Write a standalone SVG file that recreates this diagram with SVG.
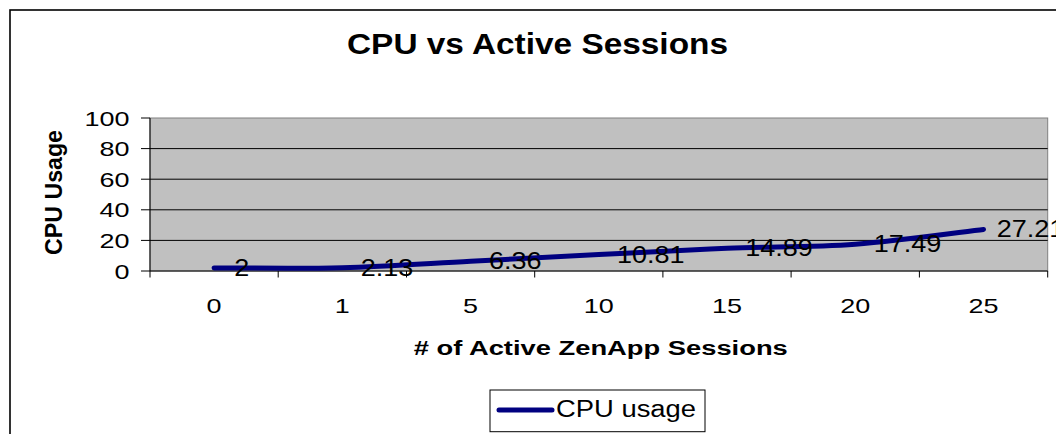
<svg xmlns="http://www.w3.org/2000/svg" width="1056" height="434" viewBox="0 0 1056 434">
<style>
.t{font-family:"Liberation Sans",Arial,sans-serif;fill:#000}
.b{font-weight:bold}
.ax{font-size:21px}
.dl{font-size:24px}
.grid{stroke:#000;stroke-width:1}
.tick{stroke:#000;stroke-width:1}
</style>
<rect x="0" y="0" width="1056" height="434" fill="#fff"/>
<g id="frame">
<rect x="10" y="10" width="1100" height="500" fill="#fff" stroke="#000" stroke-width="1.6"/>
</g>
<g id="title">
<text class="t b" x="537.5" y="54.3" font-size="29" text-anchor="middle" textLength="381" lengthAdjust="spacingAndGlyphs">CPU vs Active Sessions</text>
</g>
<g id="plot">
<rect x="150" y="118" width="897.7" height="153" fill="#C0C0C0" stroke="#808080" stroke-width="1"/>
<line class="grid" x1="150" y1="148.6" x2="1047.7" y2="148.6"/>
<line class="grid" x1="150" y1="179.2" x2="1047.7" y2="179.2"/>
<line class="grid" x1="150" y1="209.8" x2="1047.7" y2="209.8"/>
<line class="grid" x1="150" y1="240.4" x2="1047.7" y2="240.4"/>
</g>
<g id="axes">
<line class="tick" x1="150" y1="118" x2="150" y2="271"/>
<line class="tick" x1="141" y1="271" x2="1047.7" y2="271"/>
<line class="tick" x1="141" y1="118" x2="150" y2="118"/>
<line class="tick" x1="141" y1="148.6" x2="150" y2="148.6"/>
<line class="tick" x1="141" y1="179.2" x2="150" y2="179.2"/>
<line class="tick" x1="141" y1="209.8" x2="150" y2="209.8"/>
<line class="tick" x1="141" y1="240.4" x2="150" y2="240.4"/>
<line class="tick" x1="150" y1="271" x2="150" y2="277.5"/>
<line class="tick" x1="278.2" y1="271" x2="278.2" y2="277.5"/>
<line class="tick" x1="406.5" y1="271" x2="406.5" y2="277.5"/>
<line class="tick" x1="534.7" y1="271" x2="534.7" y2="277.5"/>
<line class="tick" x1="662.9" y1="271" x2="662.9" y2="277.5"/>
<line class="tick" x1="791.1" y1="271" x2="791.1" y2="277.5"/>
<line class="tick" x1="919.4" y1="271" x2="919.4" y2="277.5"/>
<line class="tick" x1="1047.7" y1="271" x2="1047.7" y2="277.5"/>
</g>
<g id="y-labels" text-anchor="end">
<text class="t ax" x="129.5" y="125.5" textLength="45" lengthAdjust="spacingAndGlyphs">100</text>
<text class="t ax" x="129.5" y="156.1" textLength="30" lengthAdjust="spacingAndGlyphs">80</text>
<text class="t ax" x="129.5" y="186.7" textLength="30" lengthAdjust="spacingAndGlyphs">60</text>
<text class="t ax" x="129.5" y="217.3" textLength="30" lengthAdjust="spacingAndGlyphs">40</text>
<text class="t ax" x="129.5" y="247.9" textLength="30" lengthAdjust="spacingAndGlyphs">20</text>
<text class="t ax" x="129.5" y="278.5" textLength="15" lengthAdjust="spacingAndGlyphs">0</text>
</g>
<g id="x-labels" text-anchor="middle">
<text class="t ax" x="214.1" y="313.3" textLength="15" lengthAdjust="spacingAndGlyphs">0</text>
<text class="t ax" x="342.3" y="313.3" textLength="15" lengthAdjust="spacingAndGlyphs">1</text>
<text class="t ax" x="470.6" y="313.3" textLength="15" lengthAdjust="spacingAndGlyphs">5</text>
<text class="t ax" x="598.8" y="313.3" textLength="30" lengthAdjust="spacingAndGlyphs">10</text>
<text class="t ax" x="727" y="313.3" textLength="30" lengthAdjust="spacingAndGlyphs">15</text>
<text class="t ax" x="855.3" y="313.3" textLength="30" lengthAdjust="spacingAndGlyphs">20</text>
<text class="t ax" x="983.5" y="313.3" textLength="30" lengthAdjust="spacingAndGlyphs">25</text>
</g>
<g id="axis-titles">
<text class="t b" x="600.8" y="355" font-size="20" text-anchor="middle" textLength="374" lengthAdjust="spacingAndGlyphs"># of Active ZenApp Sessions</text>
<text class="t b" transform="translate(61.5,192.5) scale(1.07,1) rotate(-90)" x="0" y="0" font-size="23" text-anchor="middle" textLength="125" lengthAdjust="spacingAndGlyphs">CPU Usage</text>
</g>
<g id="connectors">
<path id="series" d="M214.1,267.9 C235.5,267.87 299.55,268.8 342.3,267.7 C385.05,266.6 427.85,263.5 470.6,261.3 C513.35,259.1 556.07,256.68 598.8,254.5 C641.53,252.32 684.25,249.92 727,248.2 C769.75,246.48 812.55,247.33 855.3,244.2 C898.05,241.07 962.13,231.87 983.5,229.4" fill="none" stroke="#000080" stroke-width="5" stroke-linecap="round" stroke-linejoin="round"/>
</g>
<g id="data-labels">
<text class="t dl" x="234.2" y="275.9" textLength="15" lengthAdjust="spacingAndGlyphs">2</text>
<text class="t dl" x="360.7" y="275.7" textLength="52.5" lengthAdjust="spacingAndGlyphs">2.13</text>
<text class="t dl" x="489" y="269.3" textLength="52.5" lengthAdjust="spacingAndGlyphs">6.36</text>
<text class="t dl" x="617" y="262.5" textLength="67.6" lengthAdjust="spacingAndGlyphs">10.81</text>
<text class="t dl" x="745.3" y="256.2" textLength="67.6" lengthAdjust="spacingAndGlyphs">14.89</text>
<text class="t dl" x="873.7" y="252.2" textLength="67.6" lengthAdjust="spacingAndGlyphs">17.49</text>
<text class="t dl" x="996.7" y="237.4" textLength="67.6" lengthAdjust="spacingAndGlyphs">27.21</text>
</g>
<g id="legend">
<rect x="490" y="390" width="215" height="41.7" fill="#fff" stroke="#000" stroke-width="1"/>
<line x1="499" y1="410" x2="552" y2="410" stroke="#000080" stroke-width="5" stroke-linecap="round"/>
<text class="t" x="556" y="416.7" font-size="23" textLength="140" lengthAdjust="spacingAndGlyphs">CPU usage</text>
</g>
</svg>
